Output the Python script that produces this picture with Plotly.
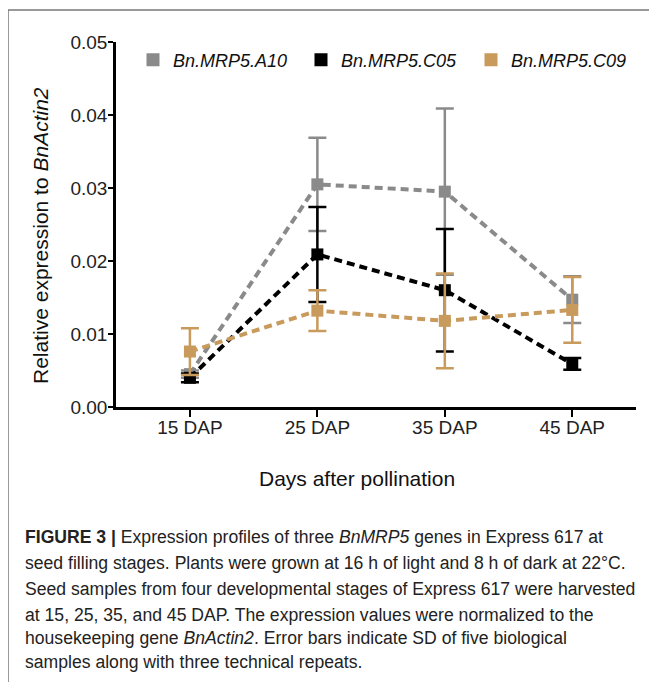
import plotly.graph_objects as go

stages = ["15 DAP", "25 DAP", "35 DAP", "45 DAP"]
x_pos = [0, 1, 2, 3]

a10_mean = [0.0045, 0.0305, 0.0295, 0.0147]
a10_sd = [0.0005, 0.0064, 0.0114, 0.0032]
c05_mean = [0.0040, 0.0209, 0.0160, 0.0059]
c05_sd = [0.0006, 0.0065, 0.0084, 0.0008]
c09_mean = [0.0076, 0.0132, 0.0118, 0.0133]
c09_sd = [0.0032, 0.0028, 0.0065, 0.0045]

series_names = ["Bn.MRP5.A10", "Bn.MRP5.C05", "Bn.MRP5.C09"]
colors = ["#8a8a8a", "#000000", "#c89a5c"]
y_ticks = [0.0, 0.01, 0.02, 0.03, 0.04, 0.05]

caption_lines = [
    "<b>FIGURE 3 |</b> Expression profiles of three <i>BnMRP5</i> genes in Express 617 at",
    "seed filling stages. Plants were grown at 16 h of light and 8 h of dark at 22°C.",
    "Seed samples from four developmental stages of Express 617 were harvested",
    "at 15, 25, 35, and 45 DAP. The expression values were normalized to the",
    "housekeeping gene <i>BnActin2</i>. Error bars indicate SD of five biological",
    "samples along with three technical repeats.",
]

OFF = 8  # page body margin
W, H = 657 - OFF, 682 - OFF
L, R, T, B = 116 - OFF, 636 - OFF, 42 - OFF, 407 - OFF


def py(Y):
    return (B - (Y - OFF)) / (B - T)


def px(X):
    return ((X - OFF) - L) / (R - L)


fig = go.Figure()
means = [a10_mean, c05_mean, c09_mean]
sds = [a10_sd, c05_sd, c09_sd]
for name, m, s, c in zip(series_names, means, sds, colors):
    fig.add_trace(go.Scatter(
        x=x_pos, y=m, mode="lines+markers",
        line=dict(color=c, width=4, dash="8px,5px"),
        marker=dict(symbol="square", size=12, color=c),
        error_y=dict(type="data", array=s, visible=True, color=c, thickness=2.5, width=9),
        showlegend=False, cliponaxis=False,
    ))

legend_ids = ["legend", "legend2", "legend3"]
legend_x = [133, 301, 471]
for name, c, lid in zip(series_names, colors, legend_ids):
    fig.add_trace(go.Scatter(
        x=[None], y=[None], mode="markers", name=f"<i>{name}</i>",
        marker=dict(symbol="square", size=13, color=c),
        legend=lid,
    ))

annotations = [
    dict(text="Days after pollination", x=px(357), y=py(478), xref="paper", yref="paper",
         showarrow=False, font=dict(size=21, color="#111"),
         xanchor="center", yanchor="middle"),
    dict(text="Relative expression to <i>BnActin2</i>", x=px(40), y=py(236), xref="paper", yref="paper",
         showarrow=False, textangle=-90, font=dict(size=21, color="#111"),
         xanchor="center", yanchor="middle"),
]
caption_y = [537, 563, 589, 615, 638, 662]
for line, cy in zip(caption_lines, caption_y):
    annotations.append(dict(
        text=line, x=px(23), y=py(cy), xref="paper", yref="paper",
        showarrow=False, xanchor="left", yanchor="middle", align="left",
        font=dict(size=17.6, color="#222"),
    ))

legend_common = dict(orientation="h", xanchor="left", yanchor="middle",
                     font=dict(size=18, color="#111"), bgcolor="rgba(0,0,0,0)", itemwidth=30)
layout_legends = {}
for lid, lx in zip(legend_ids, legend_x):
    layout_legends[lid] = dict(x=px(lx), y=py(60), **legend_common)

fig.update_layout(
    width=W, height=H,
    margin=dict(l=L, r=W - R, t=T, b=H - B, pad=0),
    paper_bgcolor="white", plot_bgcolor="white",
    font=dict(family="Liberation Sans, Arial", color="#111"),
    xaxis=dict(range=[-0.58, 3.5], tickvals=x_pos, ticktext=stages, showgrid=False, zeroline=False,
               showline=True, linecolor="black", linewidth=2.5, ticks="outside", ticklen=7,
               tickwidth=2, tickcolor="black", tickfont=dict(size=19, color="#222"),
               ticklabelstandoff=-6),
    yaxis=dict(range=[0, 0.05], tickvals=y_ticks, tickformat=".2f", showgrid=False, zeroline=False,
               showline=True, linecolor="black", linewidth=2.5, ticks="outside", ticklen=5,
               tickwidth=2, tickcolor="black", tickfont=dict(size=19, color="#222"),
               ticklabelstandoff=-3),
    annotations=annotations,
    shapes=[
        dict(type="line", xref="paper", yref="paper", x0=px(8), y0=py(690), x1=px(8), y1=py(10),
             line=dict(color="#777", width=1.5)),
        dict(type="line", xref="paper", yref="paper", x0=px(8), y0=py(10), x1=px(670), y1=py(10),
             line=dict(color="#777", width=1.5)),
    ],
    **layout_legends,
)

fig.write_html("out.html")
